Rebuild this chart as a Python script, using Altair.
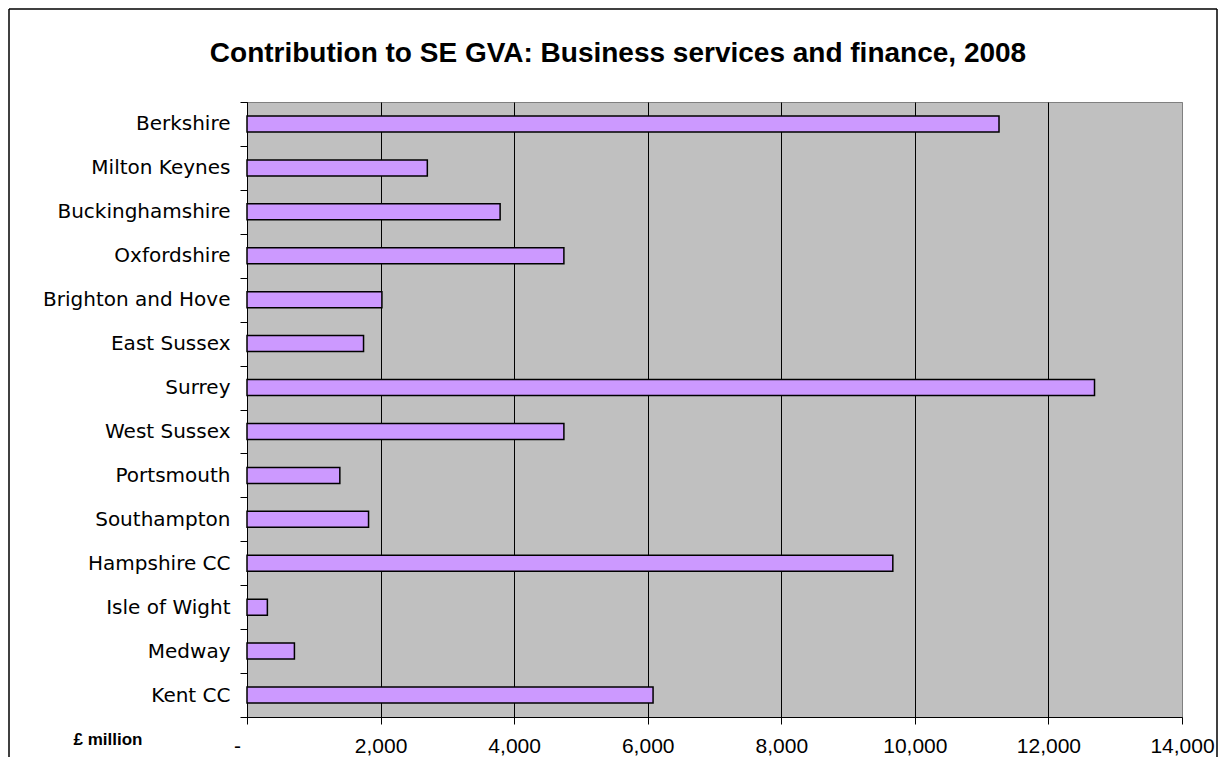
import altair as alt
import pandas as pd

regions = ["Berkshire", "Milton Keynes", "Buckinghamshire", "Oxfordshire",
           "Brighton and Hove", "East Sussex", "Surrey", "West Sussex",
           "Portsmouth", "Southampton", "Hampshire CC", "Isle of Wight",
           "Medway", "Kent CC"]
values = [11260, 2700, 3790, 4745, 2020, 1745, 12690, 4745,
          1390, 1820, 9670, 305, 710, 6080]
x_ticks = [0, 2000, 4000, 6000, 8000, 10000, 12000, 14000]
title_text = "Contribution to SE GVA: Business services and finance, 2008"
unit_text = "\u00a3 million"

df = pd.DataFrame({"region": regions, "value": values})
one = pd.DataFrame({"a": [0]})

bars = alt.Chart(df).mark_bar(
    size=16, color="#CC99FF", stroke="black", strokeWidth=1.5
).encode(
    x=alt.X(
        "value:Q",
        scale=alt.Scale(domain=[0, 14000], nice=False),
        axis=alt.Axis(
            title=None,
            values=x_ticks,
            labelExpr="datum.value == 0 ? '-' : format(datum.value, ',.0f')",
            labelOffset={"condition": {"test": "datum.value == 0", "value": -10}, "value": 0},
            labelFont="Liberation Sans",
            labelFontSize=21,
            labelColor="black",
            labelPadding=11,
            labelFlush=False,
            labelOverlap=False,
            tickSize=7,
            tickColor="black",
            domainColor="black",
            grid=True,
            gridColor={"condition": {"test": "datum.value == 14000", "value": "#808080"}, "value": "black"},
            gridWidth=1,
            gridOpacity=1,
        ),
    ),
    y=alt.Y(
        "region:N",
        sort=regions,
        scale=alt.Scale(paddingInner=0, paddingOuter=0),
        axis=alt.Axis(
            title=None,
            tickBand="extent",
            tickSize=7,
            tickColor="black",
            domainColor="black",
            labelPadding=10,
            labelFont="DejaVu Sans",
            labelFontSize=20,
            labelColor="black",
            labelLimit=0,
            grid=False,
        ),
    ),
)

# outer chart frame (left, top, right edges)
frame_left = alt.Chart(one).mark_rule(color="black", strokeWidth=1.5).encode(
    x=alt.value(-238), y=alt.value(-93), y2=alt.value(700))
frame_top = alt.Chart(one).mark_rule(color="black", strokeWidth=1.5).encode(
    x=alt.value(-238), x2=alt.value(970), y=alt.value(-93))
frame_right = alt.Chart(one).mark_rule(color="black", strokeWidth=1.5).encode(
    x=alt.value(970), y=alt.value(-93), y2=alt.value(700))

title = alt.Chart(one).mark_text(
    text=title_text, font="Liberation Sans", fontSize=28, fontWeight="bold",
    align="center", baseline="alphabetic", color="black"
).encode(x=alt.value(371), y=alt.value(-40))

unit = alt.Chart(one).mark_text(
    text=unit_text, font="Liberation Sans", fontSize=17, fontWeight="bold",
    align="center", baseline="middle", color="black"
).encode(x=alt.value(-139), y=alt.value(638))

chart = alt.layer(bars, frame_left, frame_top, frame_right, title, unit).properties(
    width=935, height=615,
    autosize=alt.AutoSizeParams(type="none"),
    padding={"left": 239, "top": 94, "right": 36, "bottom": 40},
    background="white",
).configure_view(
    fill="#C0C0C0", stroke="#808080", strokeWidth=1
)

chart.save("out.html", embed_options={"renderer": "svg", "actions": False})
